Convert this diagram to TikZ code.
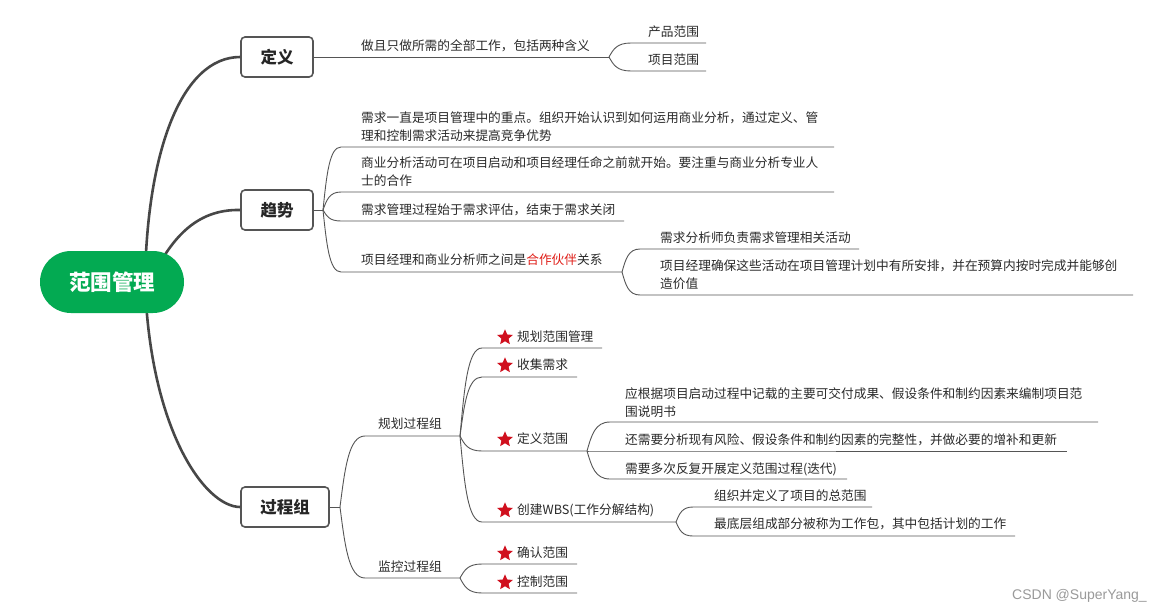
\documentclass[tikz,border=0pt]{standalone}
\usepackage{fontspec}
\setmainfont{Noto Sans CJK SC}
\newfontfamily\wmfont{Liberation Sans}
\usetikzlibrary{shapes.geometric,calc}
\definecolor{rootgreen}{HTML}{03AA52}
\definecolor{lncol}{HTML}{555555}
\definecolor{maincol}{HTML}{474747}
\definecolor{txcol}{HTML}{2A2A2A}
\definecolor{starred}{HTML}{D0101E}
\definecolor{hlred}{HTML}{E0201A}
\definecolor{wmgray}{HTML}{9A9A9A}
\newcommand\xmconn[3]{\draw[thinln] let \p1=(#1), \p2=(#2) in (#1) .. controls ({\x1+0.2*(\x2-\x1)},{\y1+0.55*(\y2-\y1)}) and ({\x1+0.35*(\x2-\x1)},{\y2}) .. (#2) -- (#3);}
\begin{document}
\begin{tikzpicture}[x=1pt,y=-1pt,
  mainln/.style={line width=2.6pt, draw=maincol},
  thinln/.style={line width=0.9pt, draw=lncol},
  boxnode/.style={draw=lncol, line width=1.6pt, rounded corners=4pt, fill=white, font=\bfseries\fontsize{16.5}{18}\selectfont, text=black!85, minimum height=40pt, inner sep=0pt},
  rootnode/.style={fill=rootgreen, rounded corners=31pt, minimum width=144pt, minimum height=62pt, inner sep=0pt, text=white, font=\bfseries\fontsize{21.5}{24}\selectfont},
  leaf/.style={anchor=base west, inner sep=0pt, font=\fontsize{12.7}{15}\selectfont, text=txcol},
  starmk/.style={star, star points=5, star point ratio=2.2, fill=starred, draw=none, inner sep=0pt, minimum size=16.5pt}
]
\fill[white] (0,0) rectangle (1171,614);
\useasboundingbox (0,0) rectangle (1171,614);

% boxes
\node[boxnode, minimum width=72pt] (def) at (277,57) {定义};
\node[boxnode, minimum width=72pt] (trend) at (277,210) {趋势};
\node[boxnode, minimum width=88pt] (proc) at (285,507) {过程组};

% main curves
\coordinate (r1) at (145,282);
\coordinate (r2) at (150,282);
\draw[mainln] (r1) .. controls (147,150) and (182,57) .. (def.west);
\draw[mainln] (r2) .. controls (170,240) and (195,209) .. (trend.west);
\draw[mainln] (r1) .. controls (150,430) and (205,507) .. (proc.west);
\node[rootnode] (root) at (112,282) {范围管理};

% ---- 定义
\coordinate (d0) at (609,57);
\draw[thinln] (def.east) -- (d0);
\node[leaf] (dt) at (361,50.8) {做且只做所需的全部工作，包括两种含义};
\coordinate (d1s) at (631,43); \coordinate (d1e) at (706,43);
\node[leaf] (d1) at (648,36.8) {产品范围};
\xmconn{d0}{d1s}{d1e}
\coordinate (d2s) at (631,71); \coordinate (d2e) at (706,71);
\node[leaf] (d2) at (648,64.8) {项目范围};
\xmconn{d0}{d2s}{d2e}

% ---- 趋势
\coordinate (t0) at (323,210);
\draw[thinln] (trend.east) -- (t0);
\node[leaf] (ta1) at (361,122.8) {需求一直是项目管理中的重点。组织开始认识到如何运用商业分析，通过定义、管};
\node[leaf] (ta2) at (361,140.8) {理和控制需求活动来提高竞争优势};
\coordinate (tas) at (341,147); \coordinate (tae) at (834,147);
\xmconn{t0}{tas}{tae}
\node[leaf] (tb1) at (361,167.8) {商业分析活动可在项目启动和项目经理任命之前就开始。要注重与商业分析专业人};
\node[leaf] (tb2) at (361,185.8) {士的合作};
\coordinate (tbs) at (341,192); \coordinate (tbe) at (834,192);
\xmconn{t0}{tbs}{tbe}
\node[leaf] (tc) at (361,214.8) {需求管理过程始于需求评估，结束于需求关闭};
\coordinate (tcs) at (341,221); \coordinate (tce) at (624,221);
\xmconn{t0}{tcs}{tce}
\node[leaf] (td) at (361,264.8) {项目经理和商业分析师之间是\textcolor{hlred}{合作伙伴}关系};
\coordinate (tds) at (341,272); \coordinate (tde) at (622,272);
\xmconn{t0}{tds}{tde}
\node[leaf] (td1) at (660,242.8) {需求分析师负责需求管理相关活动};
\coordinate (td1s) at (640,249); \coordinate (td1e) at (859,249);
\xmconn{tde}{td1s}{td1e}
\node[leaf] (td2a) at (660,270.8) {项目经理确保这些活动在项目管理计划中有所安排，并在预算内按时完成并能够创};
\node[leaf] (td2b) at (660,288.8) {造价值};
\coordinate (td2s) at (640,295); \coordinate (td2e) at (1133,295);
\xmconn{tde}{td2s}{td2e}

% ---- 过程组
\coordinate (p0) at (340,507);
\draw[thinln] (proc.east) -- (p0);
\node[leaf] (pg1) at (378,428.8) {规划过程组};
\coordinate (pg1s) at (365,436); \coordinate (pg1e) at (460,436);
\xmconn{p0}{pg1s}{pg1e}
\node[leaf] (pg2) at (378,571.8) {监控过程组};
\coordinate (pg2s) at (365,578); \coordinate (pg2e) at (460,578);
\xmconn{p0}{pg2s}{pg2e}

% planning items
\node[starmk] (s1) at (505,337.5) {};
\node[leaf] (i1) at (517,341.8) {规划范围管理};
\coordinate (i1s) at (482,348); \coordinate (i1e) at (602,348);
\xmconn{pg1e}{i1s}{i1e}
\node[starmk] (s2) at (505,365.5) {};
\node[leaf] (i2) at (517,369.8) {收集需求};
\coordinate (i2s) at (482,377); \coordinate (i2e) at (577,377);
\xmconn{pg1e}{i2s}{i2e}
\node[starmk] (s3) at (505,439.5) {};
\node[leaf] (i3) at (517,443.8) {定义范围};
\coordinate (i3s) at (482,451); \coordinate (i3e) at (587,451);
\xmconn{pg1e}{i3s}{i3e}
\node[starmk] (s4) at (505,510.5) {};
\node[leaf] (i4) at (517,514.8) {创建WBS(工作分解结构)};
\coordinate (i4s) at (482,522); \coordinate (i4e) at (676,522);
\xmconn{pg1e}{i4s}{i4e}

% monitoring items
\node[starmk] (s5) at (505,553.5) {};
\node[leaf] (i5) at (517,557.8) {确认范围};
\coordinate (i5s) at (482,564); \coordinate (i5e) at (577,564);
\xmconn{pg2e}{i5s}{i5e}
\node[starmk] (s6) at (505,582.5) {};
\node[leaf] (i6) at (517,586.8) {控制范围};
\coordinate (i6s) at (482,593); \coordinate (i6e) at (577,593);
\xmconn{pg2e}{i6s}{i6e}

% 定义范围 details
\node[leaf] (e1a) at (625,398.8) {应根据项目启动过程中记载的主要可交付成果、假设条件和制约因素来编制项目范};
\node[leaf] (e1b) at (625,416.8) {围说明书};
\coordinate (e1s) at (610,422); \coordinate (e1e) at (1098,422);
\xmconn{i3e}{e1s}{e1e}
\node[leaf] (e2) at (625,444.8) {还需要分析现有风险、假设条件和制约因素的完整性，并做必要的增补和更新};
\coordinate (e2s) at (610,451); \coordinate (e2e) at (1067,451);
\xmconn{i3e}{e2s}{e2e}
\node[leaf] (e3) at (625,473.8) {需要多次反复开展定义范围过程(迭代)};
\coordinate (e3s) at (610,479); \coordinate (e3e) at (847,479);
\xmconn{i3e}{e3s}{e3e}

% WBS details
\node[leaf] (f1) at (714,500.8) {组织并定义了项目的总范围};
\coordinate (f1s) at (693,507); \coordinate (f1e) at (872,507);
\xmconn{i4e}{f1s}{f1e}
\node[leaf] (f2) at (714,528.8) {最底层组成部分被称为工作包，其中包括计划的工作};
\coordinate (f2s) at (693,536); \coordinate (f2e) at (1015,536);
\xmconn{i4e}{f2s}{f2e}

% watermark
\node[anchor=west, inner sep=0pt, text=wmgray, font=\wmfont\fontsize{14}{16}\selectfont] (wm) at (1012,596) {CSDN @SuperYang\_};
\end{tikzpicture}
\end{document}
